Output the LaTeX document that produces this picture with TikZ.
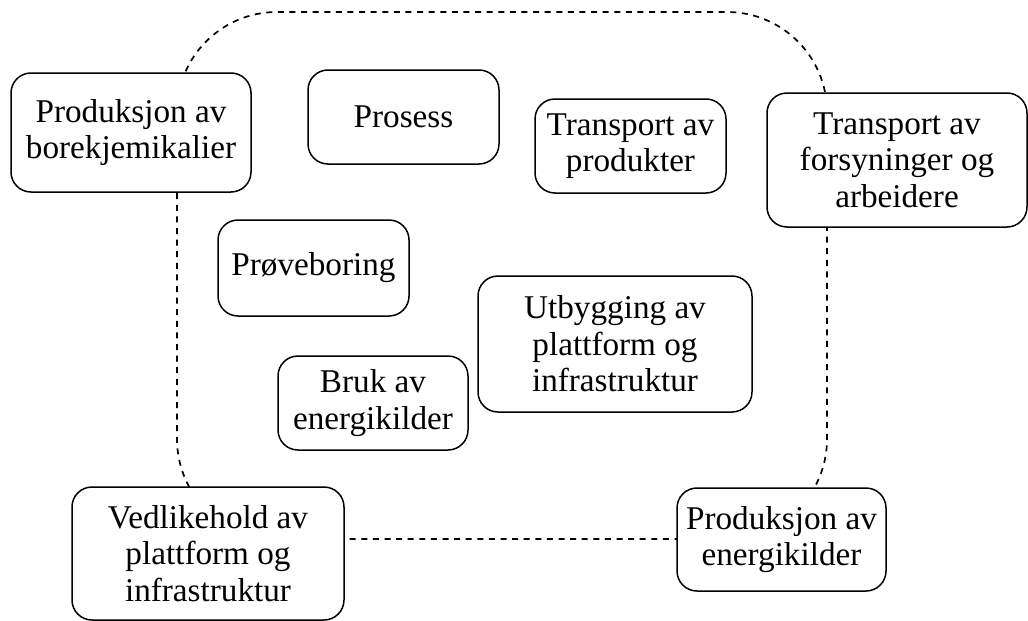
\documentclass[tikz,border=0pt]{standalone}
\usepackage{fontspec}
\setmainfont{Liberation Serif}
\begin{document}
\begin{tikzpicture}[x=0.5pt,y=-0.5pt,
  box/.style={draw, line width=0.75pt, rounded corners=10pt, fill=white,
    align=center, inner sep=0pt, font=\fontsize{16.6}{18.2}\selectfont},
  bound/.style={line width=0.85pt, dash pattern=on 3pt off 2.8pt, rounded corners=50pt}]
\useasboundingbox (0,0) rectangle (1028,621);
\draw[bound] (177,12) rectangle (827,539);
\node[box, minimum width=120pt, minimum height=59.5pt] (bore) at (131,132.5) {Produksjon av\\borekjemikalier};
\node[box, minimum width=95.5pt, minimum height=47pt] (prosess) at (403.5,117) {Prosess};
\node[box, minimum width=95.5pt, minimum height=48pt] (prove) at (313.5,268) {Prøveboring};
\node[box, minimum width=95.5pt, minimum height=47pt] (tprod) at (630.5,146) {Transport av\\produkter};
\node[box, minimum width=130pt, minimum height=67pt] (tfors) at (897,160) {Transport av\\forsyninger og\\arbeidere};
\node[box, minimum width=137pt, minimum height=68pt] (utb) at (615,344) {Utbygging av\\plattform og\\infrastruktur};
\node[box, minimum width=95pt, minimum height=47pt] (bruk) at (373,403) {Bruk av\\energikilder};
\node[box, minimum width=136pt, minimum height=66.5pt] (ved) at (208,553.5) {Vedlikehold av\\plattform og\\infrastruktur};
\node[box, minimum width=104.5pt, minimum height=51.5pt] (penerg) at (781.5,539.5) {Produksjon av\\energikilder};
\end{tikzpicture}
\end{document}
